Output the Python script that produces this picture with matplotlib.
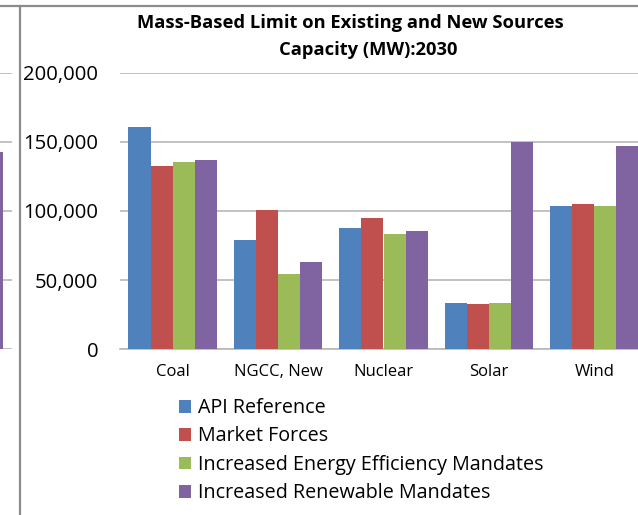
import matplotlib
matplotlib.use("Agg")
import matplotlib.pyplot as plt
from matplotlib.lines import Line2D
import numpy as np

plt.rcParams['font.family'] = ['Open Sans', 'DejaVu Sans']

categories = ["Coal", "NGCC, New", "Nuclear", "Solar", "Wind"]
series_names = ["API Reference", "Market Forces",
                "Increased Energy Efficiency Mandates", "Increased Renewable Mandates"]
api_reference = [161000, 79000, 87500, 33200, 103300]
market_forces = [132500, 100600, 94800, 32500, 105200]
energy_efficiency = [135200, 54400, 83300, 33400, 103300]
renewable_mandates = [137200, 63100, 85600, 150000, 147000]
# partially visible neighbouring chart on the left (only its last purple bar shows)
left_chart_values = [142500]

yticks = [0, 50000, 100000, 150000, 200000]
ytick_labels = ["0", "50,000", "100,000", "150,000", "200,000"]
title_line1 = "Mass-Based Limit on Existing and New Sources"
title_line2 = "Capacity (MW):2030"

colors = ["#4F81BD", "#C0504D", "#9BBB59", "#8064A2"]
grid_color = "#B8B8B8"
border_color = "#8C8C8C"

W, H = 638, 515
fig = plt.figure(figsize=(W / 100, H / 100), dpi=100)


def ax_rect(x0, y_top, x1, y_bot):
    return [x0 / W, 1 - y_bot / H, (x1 - x0) / W, (y_bot - y_top) / H]


# main axes (extends beyond the right figure edge, as in the cropped reference)
ax = fig.add_axes(ax_rect(120, 72.7, 647, 349.3))
all_series = [api_reference, market_forces, energy_efficiency, renewable_mandates]
x = np.arange(len(categories))
group_w = 0.8415
bar_w = group_w / 4
for i, (vals, c, name) in enumerate(zip(all_series, colors, series_names)):
    ax.bar(x - group_w / 2 + bar_w * (i + 0.5), vals, width=bar_w, color=c,
           label=name, zorder=3, linewidth=0)
ax.set_xlim(-0.5, len(categories) - 0.5)
ax.set_ylim(0, 200000)
ax.set_yticks(yticks)
ax.set_yticklabels(ytick_labels)
ax.set_xticks(x)
ax.set_xticklabels(categories)
ax.yaxis.grid(True, color=grid_color, linewidth=1.2, zorder=0)
ax.set_axisbelow(True)
for s in ["top", "right", "left"]:
    ax.spines[s].set_visible(False)
ax.spines["bottom"].set_color(grid_color)
ax.spines["bottom"].set_linewidth(1.2)
ax.tick_params(axis="y", length=0, pad=15.5, labelsize=14.6, labelcolor="#000000")
ax.tick_params(axis="x", length=0, pad=10.5, labelsize=12, labelcolor="#000000")
ax.patch.set_alpha(0)

# neighbouring chart fragment at the far left
axl = fig.add_axes(ax_rect(-40, 72.7, 12, 349.3))
axl.bar([0.615], left_chart_values, width=0.423, color=colors[3], zorder=3, linewidth=0)
axl.set_xlim(0, 1)
axl.set_ylim(0, 200000)
axl.set_yticks(yticks)
axl.yaxis.grid(True, color=grid_color, linewidth=1.2, zorder=0)
axl.set_axisbelow(True)
for s in ["top", "right", "left", "bottom"]:
    axl.spines[s].set_visible(False)
axl.set_xticks([])
axl.tick_params(axis="y", length=0, labelleft=False)
axl.patch.set_alpha(0)

# chart borders
fig.add_artist(Line2D([0, 1], [1 - 5.7 / H, 1 - 5.7 / H], color=border_color, linewidth=1.6,
                      transform=fig.transFigure))
fig.add_artist(Line2D([20 / W, 20 / W], [0, 1 - 5.7 / H], color=border_color, linewidth=1.6,
                      transform=fig.transFigure))

# title
fig.text(350 / W, 1 - 23 / H, title_line1, ha="center", va="center",
         fontsize=13.2, fontweight="bold", color="#000000")
fig.text(368 / W, 1 - 50 / H, title_line2, ha="center", va="center",
         fontsize=13.2, fontweight="bold", color="#000000")

# legend
handles, labels = ax.get_legend_handles_labels()
fig.legend(handles, labels, loc="upper left", bbox_to_anchor=(179 / W, 1 - 398 / H),
           frameon=False, fontsize=14.2, handlelength=0.63, handleheight=0.63,
           handletextpad=0.32, labelspacing=0.43, borderpad=0, borderaxespad=0)

fig.savefig("out.png", dpi=100)
